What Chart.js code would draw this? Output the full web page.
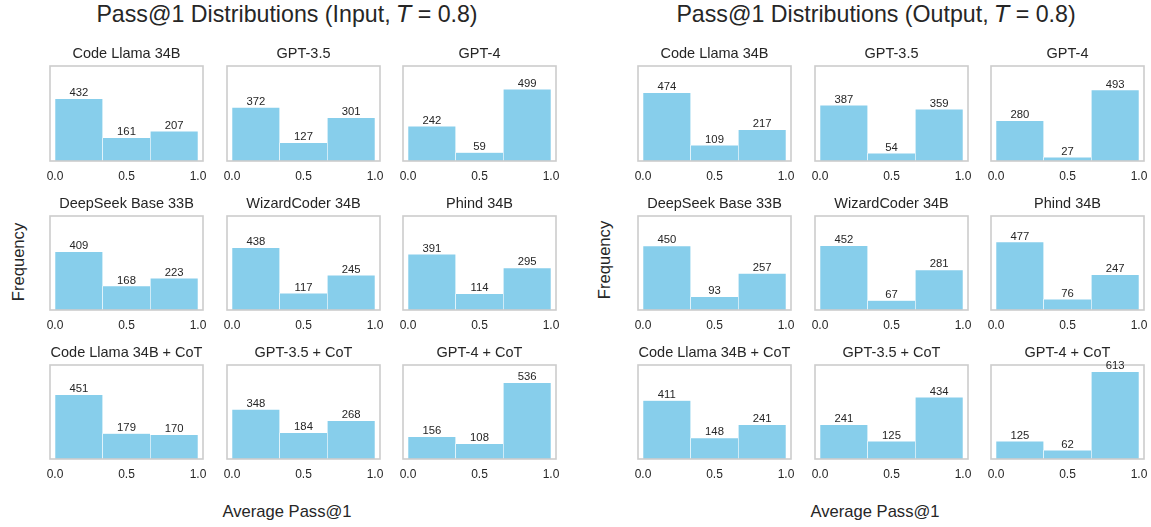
<!DOCTYPE html>
<html><head><meta charset="utf-8">
<script src="https://cdn.jsdelivr.net/npm/chart.js@4.4.0/dist/chart.umd.min.js"></script>
<style>
body{margin:0;width:1151px;height:527px;background:#fff;position:relative;overflow:hidden;font-family:"Liberation Sans",Arial,sans-serif;color:#262626}
canvas{position:absolute}
.t{position:absolute;white-space:nowrap;text-align:center}
.t i{font-family:"DejaVu Sans",sans-serif}
</style></head><body>
<div class="t" style="left:67px;width:440px;top:-1px;font-size:23.2px;line-height:30px">Pass@1 Distributions (Input, <i>T</i> = 0.8)</div>
<div class="t" style="left:656px;width:440px;top:-1px;font-size:23.2px;line-height:30px">Pass@1 Distributions (Output, <i>T</i> = 0.8)</div>
<div class="t" style="left:187px;width:200px;top:502px;font-size:16.6px;line-height:20px">Average Pass@1</div>
<div class="t" style="left:775px;width:200px;top:502px;font-size:16.6px;line-height:20px">Average Pass@1</div>
<div class="t" style="left:-31px;width:100px;top:252px;font-size:16.6px;line-height:20px;transform:rotate(-90deg)">Frequency</div>
<div class="t" style="left:555px;width:100px;top:250px;font-size:16.6px;line-height:20px;transform:rotate(-90deg)">Frequency</div>
<script>
// ---- data ----
const modelNames = ['Code Llama 34B','GPT-3.5','GPT-4','DeepSeek Base 33B','WizardCoder 34B','Phind 34B','Code Llama 34B + CoT','GPT-3.5 + CoT','GPT-4 + CoT'];
const binCenters = [1/6, 1/2, 5/6];
const xTickValues = [0, 0.5, 1.0];
const inputCounts = [
  [432,161,207],[372,127,301],[242,59,499],
  [409,168,223],[438,117,245],[391,114,295],
  [451,179,170],[348,184,268],[156,108,536]
];
const outputCounts = [
  [474,109,217],[387,54,359],[280,27,493],
  [450,93,257],[452,67,281],[477,76,247],
  [411,148,241],[241,125,434],[125,62,613]
];
const yMax = 660;

// ---- layout ----
const FONT = '"Liberation Sans", Arial, sans-serif';
const TXT = '#262626';
const colLefts = [[50,227,403],[638,815,991]];
const boxW = 153;
const rowTops = [66,216,365];
const rowHeights = [95,94,94];

const framePlugin = {
  id:'frame',
  afterDatasetsDraw(chart){
    const a = chart.chartArea, ctx = chart.ctx;
    ctx.save();
    ctx.strokeStyle = '#cccccc';
    ctx.lineWidth = 1.6;
    ctx.strokeRect(a.left, a.top, a.right-a.left, a.bottom-a.top);
    ctx.restore();
  }
};
const labelPlugin = {
  id:'vals',
  afterDraw(chart){
    const ctx = chart.ctx;
    const meta = chart.getDatasetMeta(0);
    const ds = chart.data.datasets[0].data;
    ctx.save();
    ctx.fillStyle = TXT;
    ctx.font = '11.3px ' + FONT;
    ctx.textAlign = 'center';
    ctx.textBaseline = 'alphabetic';
    meta.data.forEach((bar,i)=>{
      ctx.fillText(String(ds[i].y), bar.x, bar.y - 2.5);
    });
    ctx.restore();
  }
};

function makePanel(fig, idx, counts){
  const r = Math.floor(idx/3), c = idx%3;
  const bl = colLefts[fig][c], bt = rowTops[r], bh = rowHeights[r];
  const cv = document.createElement('canvas');
  const W = boxW + 30, H = 24 + bh + 30;
  cv.width = W; cv.height = H;
  cv.style.left = (bl-15)+'px'; cv.style.top = (bt-24)+'px';
  cv.style.width = W+'px'; cv.style.height = H+'px';
  document.body.appendChild(cv);
  new Chart(cv, {
    type:'bar',
    data:{datasets:[{
      data: binCenters.map((x,i)=>({x:x, y:counts[i]})),
      backgroundColor:'#87CEEB', borderColor:'#ffffff', borderWidth:0.6,
      barPercentage:1, categoryPercentage:1
    }]},
    options:{
      responsive:false, animation:false, devicePixelRatio:1,
      layout:{padding:{left:15,right:15,top:0,bottom:0}},
      plugins:{
        legend:{display:false}, tooltip:{enabled:false},
        title:{display:true, text:modelNames[idx], color:TXT,
          font:{family:FONT,size:14.5,weight:'normal'}, padding:{top:3.6,bottom:3}}
      },
      scales:{
        x:{type:'linear', min:-0.035, max:1.035, offset:false,
          grid:{display:false, drawTicks:false}, border:{display:false},
          afterBuildTicks:s=>{ s.ticks = xTickValues.map(v=>({value:v})); },
          afterFit:s=>{ s.height = 30; },
          ticks:{padding:8, color:TXT, font:{family:FONT,size:12}, maxRotation:0, autoSkip:false,
            callback:v=>Number(v).toFixed(1)}
        },
        y:{display:false, min:0, max:yMax}
      }
    },
    plugins:[framePlugin, labelPlugin]
  });
}
inputCounts.forEach((cnt,i)=>makePanel(0,i,cnt));
outputCounts.forEach((cnt,i)=>makePanel(1,i,cnt));
</script>
</body></html>
